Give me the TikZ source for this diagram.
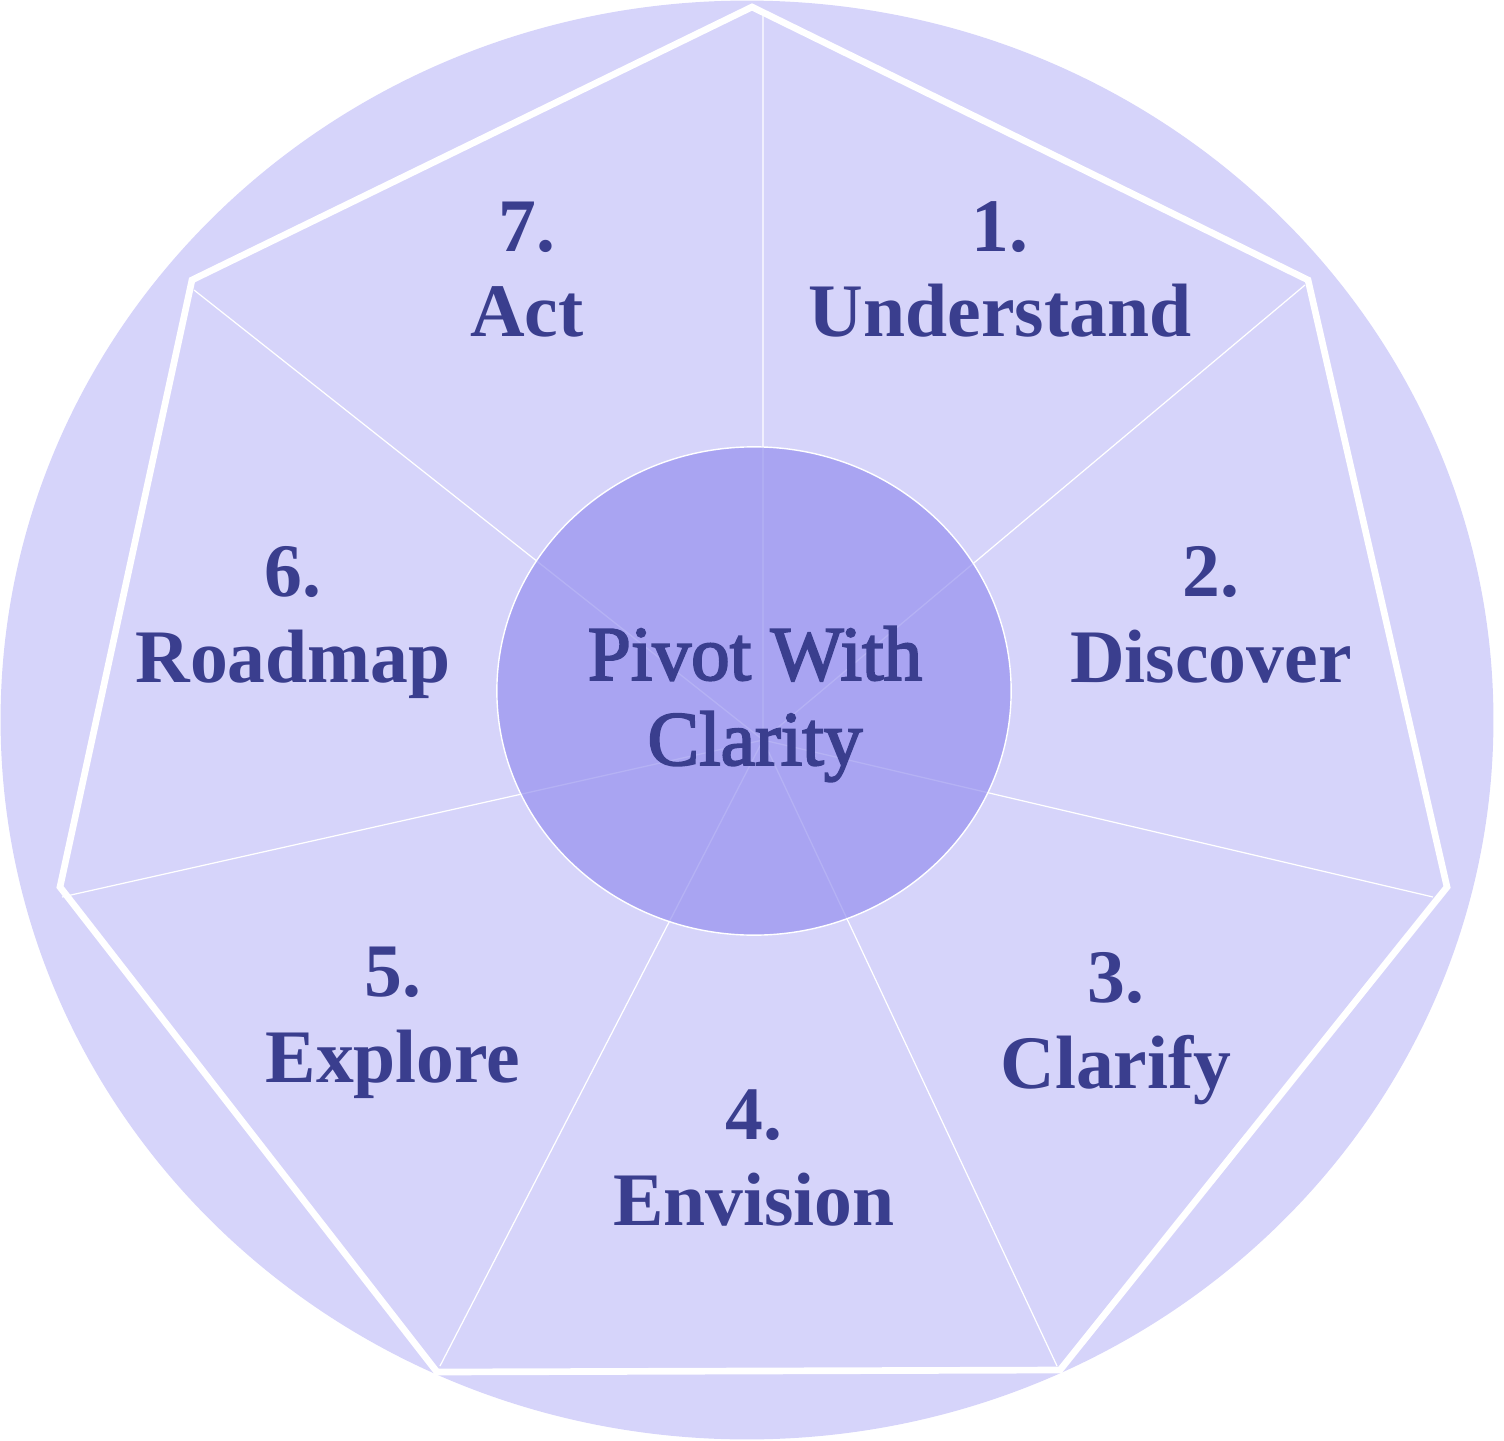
\documentclass[tikz,border=0pt]{standalone}
\usepackage{fontspec}
\setmainfont{Liberation Serif}
\newfontfamily\hubfont[FakeBold=2.5]{Liberation Serif}
\usepackage{xcolor}
\usetikzlibrary{positioning}

\definecolor{outerfill}{HTML}{D6D4FA}
\definecolor{innerfill}{HTML}{9691F0}
\definecolor{ink}{HTML}{3A3E8E}

\begin{document}
\begin{tikzpicture}[
  x=0.01cm, y=-0.01cm,
  rim/.style={draw=white, line width=1.9pt, line join=miter},
  spoke/.style={draw=white, line width=0.35pt},
  hub/.style={fill=innerfill, fill opacity=0.7, draw=white, line width=0.4pt},
  lbl/.style={align=center, anchor=base, text=ink, inner sep=0pt,
    font=\bfseries\fontsize{21.5}{24.2}\selectfont},
  hubtext/.style={align=center, anchor=base, text=ink, inner sep=0pt,
    font=\hubfont\fontsize{22}{24.2}\selectfont}
]
\useasboundingbox (0,0) rectangle (1504,1440);
\fill[outerfill] (747,720) ellipse [x radius=7.46cm, y radius=7.19cm];

% heptagon corners
\coordinate (v1) at (752,7);
\coordinate (v2) at (1308,280);
\coordinate (v3) at (1447,887);
\coordinate (v4) at (1060,1370);
\coordinate (v5) at (437,1372);
\coordinate (v6) at (60,887);
\coordinate (v7) at (192,280);
\draw[rim] (v1) -- (v2) -- (v3) -- (v4) -- (v5) -- (v6) -- (v7) -- cycle;

% spokes
\coordinate (c) at (763,740);
\coordinate (s1) at (763,14);
\coordinate (s2) at (1305,285);
\coordinate (s3) at (1433,897);
\coordinate (s4) at (1057,1366);
\coordinate (s5) at (440,1366);
\coordinate (s6) at (62,897);
\coordinate (s7) at (194,290);
\draw[spoke] (c) -- (s1) (c) -- (s2) (c) -- (s3) (c) -- (s4)
  (c) -- (s5) (c) -- (s6) (c) -- (s7);

\path[hub] (754,691) ellipse [x radius=2.57cm, y radius=2.44cm];
\node[hubtext] (pivot) at (755,765) {Pivot With\\Clarity};

\node[lbl] (understand) at (1000,337) {1.\\Understand};
\node[lbl] (discover) at (1211,682) {2.\\Discover};
\node[lbl] (clarify) at (1116,1088) {3.\\Clarify};
\node[lbl] (envision) at (754,1225) {4.\\Envision};
\node[lbl] (explore) at (393,1082) {5.\\Explore};
\node[lbl] (roadmap) at (293,682) {6.\\Roadmap};
\node[lbl] (act) at (527,337) {7.\\Act};
\end{tikzpicture}
\end{document}
